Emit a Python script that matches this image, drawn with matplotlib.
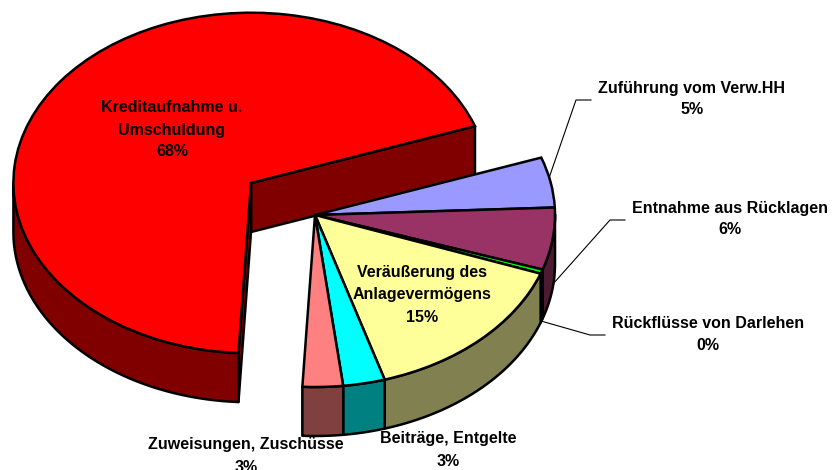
import numpy as np
import matplotlib
matplotlib.use("Agg")
import matplotlib.pyplot as plt
from matplotlib.patches import Polygon
from matplotlib.lines import Line2D

plt.rcParams['font.family'] = ['Liberation Sans', 'DejaVu Sans']

# slices, clockwise from the top edge of the blue one
names = ["Zuführung vom Verw.HH", "Entnahme aus Rücklagen", "Rückflüsse von Darlehen",
         "Veräußerung des\nAnlagevermögens", "Beiträge, Entgelte",
         "Zuweisungen, Zuschüsse", "Kreditaufnahme u.\nUmschuldung"]
values = [4.7, 5.8, 0.4, 14.7, 2.8, 2.7, 68.4]
shown = ["5%", "6%", "0%", "15%", "3%", "3%", "68%"]
colors = ["#9999FF", "#993366", "#00FF00", "#FFFF99", "#00FFFF", "#FF8080", "#FF0000"]
dark = ["#4D4D80", "#4D1A33", "#008000", "#808050", "#008080", "#804040", "#800000"]

W, H = 833, 470
cx, cy = 315, 215   # pie centre in pixels
rx, ry = 240, 172   # ellipse radii in pixels
depth = 49 / ry
lw = 1.8

pulled = 6            # index of the red slice
pull_px = (-64, -32)  # how far it is pulled out, pixels

# label centres in pixels, same order as names
label_pos = [(692, 88), (730, 208), (708, 323), (422, 273), (448, 439), (246, 445), (172, 108)]
line_h = 22

fig = plt.figure(figsize=(W / 100, H / 100), dpi=100)
ax = fig.add_axes([0, 0, 1, 1])

wedges, _ = ax.pie(values, colors=colors, startangle=19.5, counterclock=False,
                   wedgeprops=dict(edgecolor="black", linewidth=lw))
ax.set_aspect("auto")
ax.set_xlim(-cx / rx, (W - cx) / rx)
ax.set_ylim((cy - H) / ry, cy / ry)
ax.axis("off")
wedges[pulled].set_center((pull_px[0] / rx, -pull_px[1] / ry))
wedges[pulled].set_radius(0.99)


def add_side(points, color, z):
    # extrude a top edge downwards
    points = np.array(points)
    low = points - [0, depth]
    ax.add_patch(Polygon(np.vstack([points, low[::-1]]), closed=True, facecolor=color,
                         edgecolor="black", linewidth=lw, zorder=z, joinstyle="round"))


for i, w in enumerate(wedges):
    base = 1 if i == pulled else 5
    w.set_zorder(base + 2)
    c = np.array(w.center)
    # outer wall, only the part facing the viewer
    t1, t2 = w.theta1 % 360, w.theta2 % 360
    if t2 < t1:
        t2 += 360
    ts = np.linspace(t1, t2, 200)
    ts = ts[np.sin(np.radians(ts)) < 0.005]
    if len(ts) > 1:
        arc = c + np.c_[np.cos(np.radians(ts)), np.sin(np.radians(ts))] * w.r
        add_side(arc, dark[i], base + 1)
    # cut faces of the pulled out slice
    if i == pulled:
        for t in (w.theta1, w.theta2):
            rim = c + np.array([np.cos(np.radians(t)), np.sin(np.radians(t))]) * w.r
            add_side([c, rim], dark[i], base)


def px_line(xs, ys):
    fig.add_artist(Line2D(np.array(xs) / W, 1 - np.array(ys) / H, color="black", lw=0.8))


px_line([549, 576, 591], [178, 100, 100])
px_line([553, 610, 625], [284, 220, 220])
px_line([541, 590, 605], [321, 335, 335])

for name, pct, (x, y) in zip(names, shown, label_pos):
    rows = name.split("\n") + [pct]
    for k, row in enumerate(rows):
        fig.text(x / W, 1 - (y + k * line_h) / H, row, ha="center", va="center",
                 fontsize=11.5, fontweight="bold", color="black", zorder=20)

fig.savefig("out.png", dpi=100)
